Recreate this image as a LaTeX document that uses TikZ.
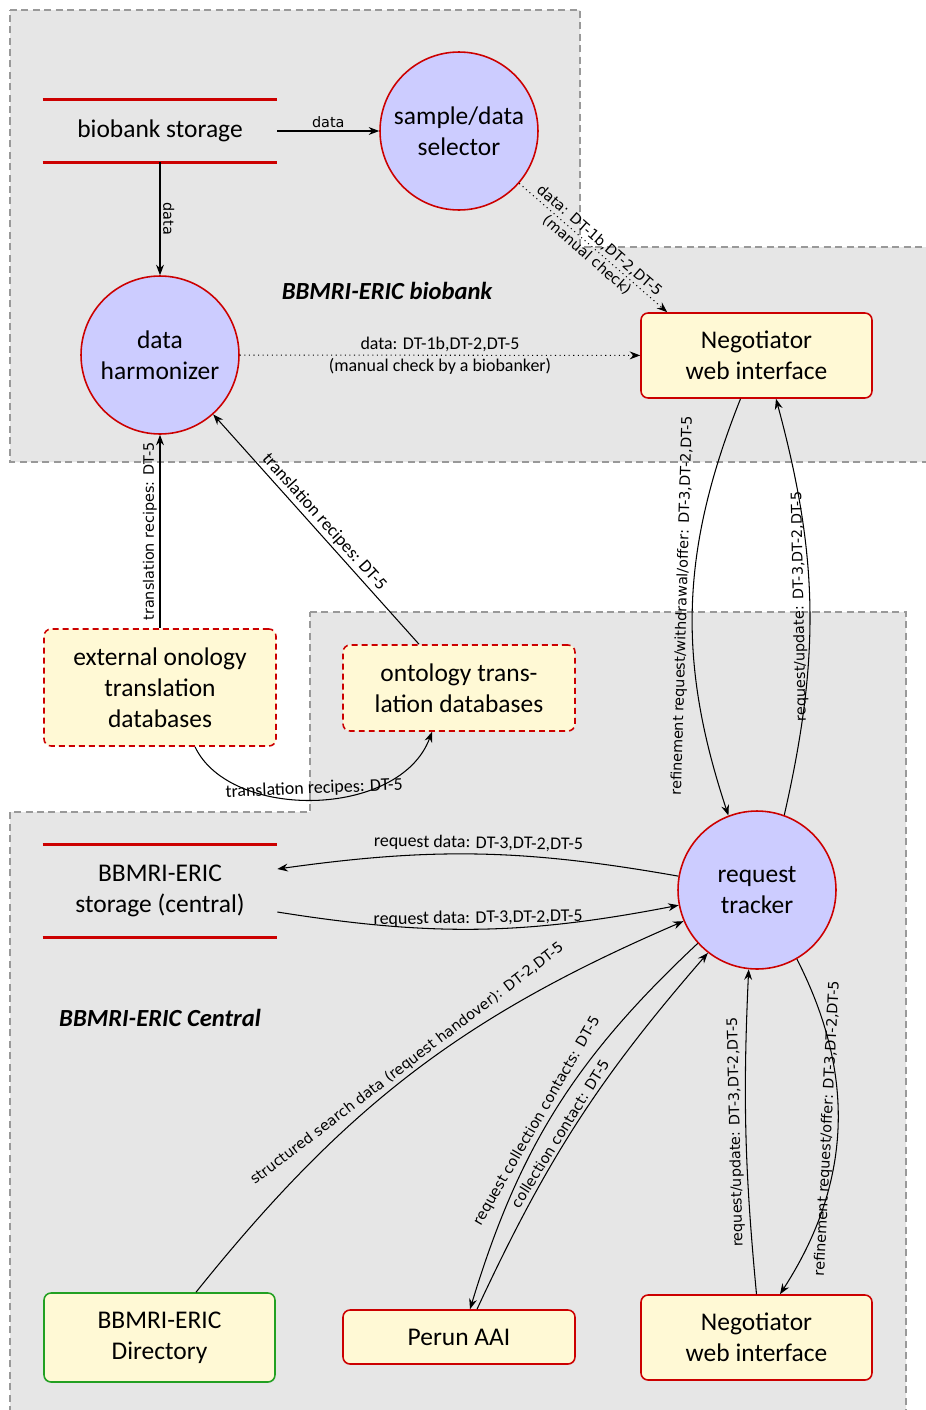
\documentclass[tikz,border=0pt]{standalone}
\usepackage{fontspec}
\setmainfont{Carlito}
\newfontfamily\labelfont{DejaVu Sans}
\usetikzlibrary{arrows.meta}

\definecolor{regiongray}{HTML}{E6E6E6}
\definecolor{regionline}{HTML}{999999}
\definecolor{nodered}{HTML}{CC0000}
\definecolor{nodegreen}{HTML}{22A022}
\definecolor{procblue}{HTML}{CCCCFF}
\definecolor{extyellow}{HTML}{FFF9D5}

\newcommand{\boxtextsize}{\fontsize{14.5}{17.5}\selectfont}

\tikzset{
	region/.style={fill=regiongray, draw=regionline, line width=1pt, dash pattern=on 4pt off 2.5pt},
	proc/.style={circle, draw=nodered, fill=procblue, line width=0.9pt, minimum size=3.16cm, inner sep=0pt, align=center, font=\boxtextsize},
	extbox/.style={rounded corners=4pt, draw=nodered, fill=extyellow, line width=0.9pt, minimum width=4.62cm, minimum height=1.7cm, align=center, font=\boxtextsize},
	dbbox/.style={extbox, minimum width=4.64cm, dash pattern=on 3.4pt off 2.3pt},
	store/.style={minimum width=4.68cm, minimum height=1.24cm, inner sep=0pt, align=center, font=\boxtextsize},
	storeline/.style={draw=nodered, line width=1.6pt},
	flow/.style={->, line width=0.6pt},
	lbl/.style={font=\labelfont\fontsize{8.2}{9.5}\selectfont, inner sep=1.5pt},
	lblc/.style={font=\fontsize{10.2}{11.5}\selectfont, inner sep=1.5pt},
	regionlbl/.style={font=\fontsize{14}{16}\selectfont\bfseries\itshape},
}

\begin{document}
\begin{tikzpicture}[x=0.02cm, y=-0.02cm, >={Stealth[length=6pt,width=4.5pt,inset=2pt]}]
	\clip (0,0) rectangle (926,1410);
	
	% regions
	\draw[region] (10,10) -- (580,10) -- (580,247) -- (940,247) -- (940,462) -- (10,462) -- cycle;
	\draw[region] (310,612) -- (906,612) -- (906,1420) -- (10,1420) -- (10,812) -- (310,812) -- cycle;
	
	% biobank
	\node[store] (bstore) at (160,131) {biobank storage};
	\draw[storeline] (bstore.north west) -- (bstore.north east);
	\draw[storeline] (bstore.south west) -- (bstore.south east);
	\node[proc] (selector) at (459,131) {sample/data\\selector};
	\node[proc] (harmon) at (160,355) {data\\harmonizer};
	\node[regionlbl] (biolbl) at (387,291) {BBMRI-ERIC biobank};
	\node[extbox] (negtop) at (756.5,355.5) {Negotiator\\web interface};
	
	% ontology databases
	\node[dbbox, minimum height=2.34cm] (extdb) at (160,687.5) {external onology\\translation\\databases};
	\node[dbbox, minimum height=1.72cm] (ontdb) at (459,688) {ontology trans-\\lation databases};
	
	% central
	\node[store, minimum height=1.84cm] (cstore) at (160,891) {BBMRI-ERIC\\storage (central)};
	\draw[storeline] (cstore.north west) -- (cstore.north east);
	\draw[storeline] (cstore.south west) -- (cstore.south east);
	\node[proc] (tracker) at (757,890) {request\\tracker};
	\node[regionlbl] (cenlbl) at (160,1018) {BBMRI-ERIC Central};
	\node[extbox, draw=nodegreen, minimum height=1.78cm] (dir) at (159.5,1337.5) {BBMRI-ERIC\\Directory};
	\node[extbox, minimum width=4.64cm, minimum height=1.08cm] (perun) at (459,1337) {Perun AAI};
	\node[extbox] (negbot) at (756.5,1337.5) {Negotiator\\web interface};
	
	% flows inside the biobank
	\draw[flow] (bstore.east) -- node[lbl, above] {data} (selector);
	\draw[flow] (bstore.south) -- node[lbl, sloped, above] {data} (harmon);
	\draw[flow, dotted] (selector) -- node[lbl, sloped, above] {data: DT-1b,DT-2,DT-5} node[lbl, sloped, below] {(manual check)} ([xshift=0.54cm]negtop.north west);
	\draw[flow, dotted] (harmon) -- node[lblc, above] {data: DT-1b,DT-2,DT-5} node[lblc, below] {(manual check by a biobanker)} (negtop);
	
	% translation recipes
	\draw[flow] (extdb) -- node[lbl, sloped, above] {translation recipes: DT-5} (harmon);
	\draw[flow] ([xshift=-0.8cm]ontdb.north) -- node[lblc, sloped, above] {translation recipes: DT-5} (harmon);
	\draw[flow] ([xshift=0.7cm]extdb.south) .. controls +(35,74) and +(-32,87) .. node[lblc, sloped, above] {translation recipes: DT-5} ([xshift=-0.54cm]ontdb.south);
	
	% negotiator <-> tracker
	\draw[flow] ([xshift=-0.32cm]negtop.south) to[bend right=20] node[lbl, sloped, above] {refinement request/withdrawal/offer: DT-3,DT-2,DT-5} (tracker.111);
	\draw[flow] (tracker.70) to[bend right=14] node[lbl, sloped, above, allow upside down] {request/update: DT-3,DT-2,DT-5} ([xshift=0.39cm]negtop.south);
	
	% central flows
	\draw[flow] (tracker.170) to[bend right=9] node[lblc, sloped, above] {request data: DT-3,DT-2,DT-5} ([yshift=0.44cm]cstore.east);
	\draw[flow] ([yshift=-0.42cm]cstore.east) to[bend right=10] node[lblc, sloped, above] {request data: DT-3,DT-2,DT-5} (tracker.191);
	\draw[flow] ([xshift=0.73cm]dir.north) to[bend left=14] node[lbl, sloped, above] {structured search data (request handover): DT-2,DT-5} (tracker.203);
	\draw[flow] (tracker.222) to[bend right=15] node[lbl, sloped, above, pos=0.55] {request collection contacts: DT-5} ([xshift=0.22cm]perun.north);
	\draw[flow] ([xshift=0.36cm]perun.north) to[bend left=8] node[lbl, sloped, above, pos=0.45] {collection contact: DT-5} (tracker.232);
	\draw[flow] (negbot.north) to[bend left=4] node[lbl, sloped, above, allow upside down] {request/update: DT-3,DT-2,DT-5} (tracker.264);
	\draw[flow] (tracker.-60) to[bend left=30] node[lbl, sloped, above] {refinement request/offer: DT-3,DT-2,DT-5} ([xshift=0.47cm]negbot.north);
\end{tikzpicture}
\end{document}
